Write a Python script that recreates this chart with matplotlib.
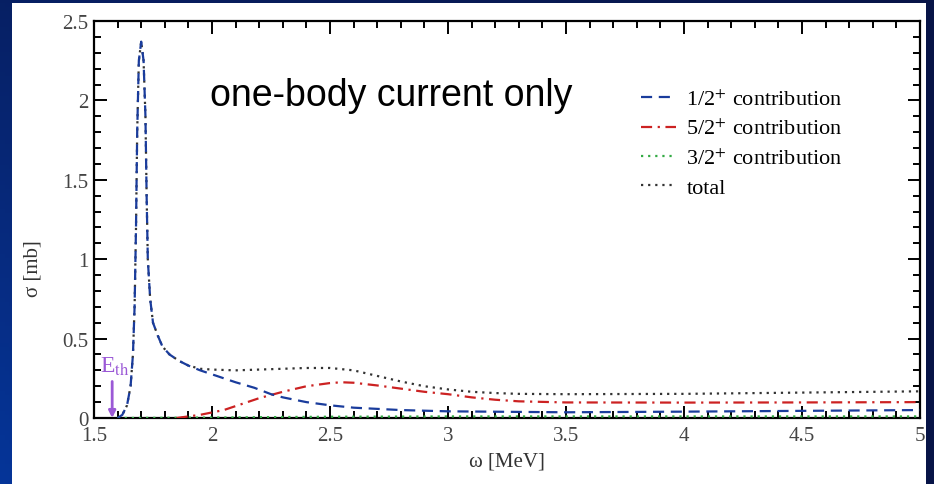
import numpy as np
import matplotlib.pyplot as plt
from matplotlib.patches import Rectangle

plt.rcParams['font.family'] = ['Liberation Serif', 'DejaVu Serif']
plt.rcParams['mathtext.fontset'] = 'stix'

# cross-section curves, sigma in mb against omega in MeV
omega_half = [1.60, 1.62, 1.64, 1.655, 1.665, 1.672, 1.678, 1.683, 1.69, 1.70,
              1.71, 1.718, 1.723, 1.728, 1.738, 1.75, 1.77, 1.79, 1.82, 1.86,
              1.90, 1.95, 2.0, 2.05, 2.1, 2.18, 2.25, 2.3, 2.4, 2.5,
              2.6, 2.8, 3.0, 3.5, 4.0, 4.5, 5.0]
sigma_half = [0.00, 0.02, 0.08, 0.20, 0.40, 0.70, 1.20, 1.80, 2.25, 2.37,
              2.25, 1.90, 1.40, 1.00, 0.75, 0.60, 0.52, 0.45, 0.40, 0.36,
              0.33, 0.30, 0.275, 0.25, 0.225, 0.19, 0.15, 0.13, 0.10, 0.08,
              0.065, 0.05, 0.042, 0.036, 0.04, 0.045, 0.05]

omega_five = [1.85, 1.90, 1.95, 2.0, 2.05, 2.1, 2.15, 2.2, 2.25, 2.3,
              2.4, 2.5, 2.55, 2.6, 2.7, 2.8, 2.9, 3.0, 3.1, 3.2,
              3.3, 3.5, 4.0, 4.5, 5.0]
sigma_five = [0.0, 0.01, 0.02, 0.035, 0.05, 0.075, 0.10, 0.125, 0.145, 0.165,
              0.20, 0.22, 0.225, 0.222, 0.205, 0.185, 0.165, 0.15, 0.13, 0.115,
              0.105, 0.098, 0.097, 0.098, 0.10]

omega_three = [1.60, 2.0, 2.5, 3.0, 4.0, 5.0]
sigma_three = [0.0, 0.003, 0.008, 0.01, 0.01, 0.01]

omega_total = [1.60, 1.62, 1.64, 1.655, 1.665, 1.672, 1.678, 1.683, 1.69, 1.70,
               1.71, 1.718, 1.723, 1.728, 1.738, 1.75, 1.77, 1.79, 1.82, 1.86,
               1.90, 1.95, 2.0, 2.1, 2.2, 2.3, 2.4, 2.5, 2.6, 2.7,
               2.8, 2.9, 3.0, 3.1, 3.2, 3.3, 3.5, 4.0, 4.5, 5.0]
sigma_total = [0.00, 0.02, 0.08, 0.20, 0.40, 0.70, 1.20, 1.80, 2.25, 2.37,
               2.25, 1.90, 1.40, 1.00, 0.75, 0.60, 0.52, 0.45, 0.40, 0.36,
               0.33, 0.31, 0.305, 0.30, 0.305, 0.31, 0.315, 0.315, 0.30, 0.265,
               0.23, 0.20, 0.18, 0.165, 0.157, 0.152, 0.15, 0.152, 0.16, 0.168]

e_threshold = 1.577

W, H = 934, 485
fig = plt.figure(figsize=(W / 100, H / 100), dpi=100)

# slide background: blue gradient with a white panel
bg = fig.add_axes([0, 0, 1, 1], zorder=-10)
gx = np.linspace(0, 1, 200)[None, :]
gy = np.linspace(0, 1, 120)[:, None]
mix = np.clip(0.8 * (1 - gx) * (0.35 + 0.65 * gy), 0, 1)
dark = np.array([0.03, 0.08, 0.28])
bright = np.array([0.02, 0.24, 0.68])
img = dark[None, None, :] * (1 - mix[..., None]) + bright[None, None, :] * mix[..., None]
bg.imshow(img, aspect='auto', extent=[0, 1, 0, 1], origin='upper')
bg.set_xlim(0, 1)
bg.set_ylim(0, 1)
bg.axis('off')
fig.patches.append(Rectangle((12 / W, 0), (926 - 12) / W, 1 - 4 / H,
                             transform=fig.transFigure, facecolor='white',
                             edgecolor='none', zorder=-5))

ax = fig.add_axes([94 / W, 1 - 419 / H, (920 - 94) / W, (419 - 22) / H])
ax.set_facecolor('none')

ax.plot(omega_total, sigma_total, color='#333333', ls=(0, (1, 2.2)), lw=1.6,
        label='total', zorder=2)
ax.plot(omega_three, sigma_three, color='#33aa44', ls=(0, (1, 2.2)), lw=1.6,
        label=r'3/2$^{+}$ contribution', zorder=3)
ax.plot(omega_five, sigma_five, color='#cc2222', ls=(0, (5, 2.5, 1, 2.5)), lw=1.6,
        label=r'5/2$^{+}$ contribution', zorder=4)
ax.plot(omega_half, sigma_half, color='#1a3c9c', ls=(0, (5, 3)), lw=1.6,
        label=r'1/2$^{+}$ contribution', zorder=5)

ax.set_xlim(1.5, 5)
ax.set_ylim(0, 2.5)
ax.set_xticks(np.arange(1.5, 5.01, 0.5))
ax.set_xticklabels(['1.5', '2', '2.5', '3', '3.5', '4', '4.5', '5'])
ax.set_xticks(np.arange(1.5, 5.01, 0.1), minor=True)
ax.set_yticks(np.arange(0, 2.51, 0.5))
ax.set_yticklabels(['0', '0.5', '1', '1.5', '2', '2.5'])
ax.set_yticks(np.arange(0, 2.51, 0.1), minor=True)
ax.tick_params(which='both', direction='in', top=True, right=True,
               width=1.4, labelsize=15, labelcolor='#444444')
ax.tick_params(which='major', length=9, pad=4)
ax.tick_params(axis='x', which='major', pad=6)
ax.tick_params(which='minor', length=5)
for s in ax.spines.values():
    s.set_linewidth(1.6)

ax.set_xlabel('ω [MeV]', fontsize=15, color='#333333')
ax.set_ylabel('σ [mb]', fontsize=15, color='#333333')
ax.xaxis.set_label_coords(0.50, -0.085)
ax.yaxis.set_label_coords(-0.062, 0.38)

handles, labels = ax.get_legend_handles_labels()
order = [3, 2, 1, 0]
ax.legend([handles[i] for i in order], [labels[i] for i in order],
          loc='upper left', bbox_to_anchor=(0.662, 0.828), frameon=False,
          fontsize=16, handlelength=1.6, handletextpad=0.45, labelspacing=0.4,
          borderpad=0, borderaxespad=0)

# threshold marker
ax.annotate('', xy=(e_threshold, 0.0), xytext=(e_threshold, 0.23),
            arrowprops=dict(arrowstyle='-|>', color='#9b59d6', lw=2,
                            mutation_scale=10, shrinkA=0, shrinkB=0))
ax.text(1.526, 0.29, r'E$_{\rm th}$', color='#9b59d6', fontsize=17,
        va='baseline', ha='left')

fig.text(210 / W, 1 - 106 / H, 'one-body current only', fontsize=27,
         family=['Liberation Sans', 'DejaVu Sans'], va='baseline', ha='left')

fig.savefig('out.png', dpi=100)
